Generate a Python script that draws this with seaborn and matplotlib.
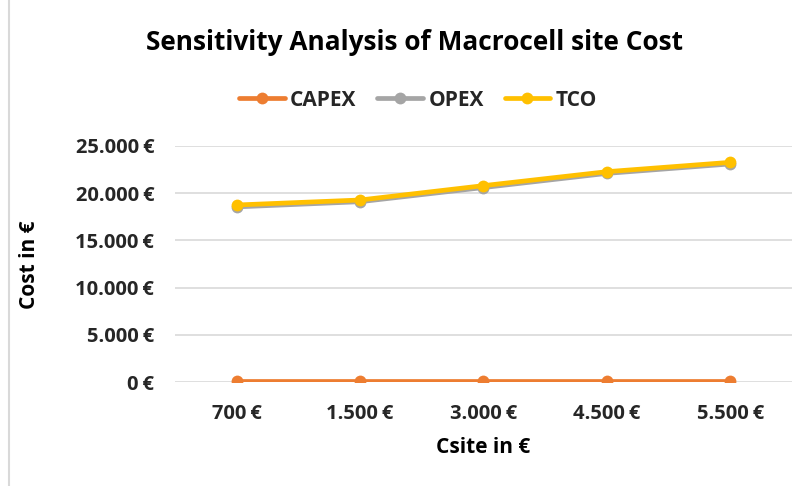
import matplotlib
matplotlib.use("Agg")
import matplotlib.pyplot as plt
import seaborn as sns
import pandas as pd
from matplotlib.lines import Line2D

categories = ["700\u2009€", "1.500\u2009€", "3.000\u2009€", "4.500\u2009€", "5.500\u2009€"]
capex = [150, 150, 150, 150, 150]
opex = [18550, 19100, 20600, 22100, 23100]
tco = [18750, 19280, 20800, 22280, 23270]
series_names = ["CAPEX", "OPEX", "TCO"]
colors = ["#ED7D31", "#A5A5A5", "#FFC000"]
yticks = [0, 5000, 10000, 15000, 20000, 25000]
ytick_labels = ["0\u2009€", "5.000\u2009€", "10.000\u2009€", "15.000\u2009€", "20.000\u2009€", "25.000\u2009€"]

sns.set_theme(style="white")
plt.rcParams["font.family"] = ["Open Sans", "DejaVu Sans"]

rows = []
for name, vals in zip(series_names, [capex, opex, tco]):
    for i, v in enumerate(vals):
        rows.append({"pos": i, "series": name, "value": v})
df = pd.DataFrame(rows)

fig = plt.figure(figsize=(8.04, 4.86), dpi=100)
ax = fig.add_axes([175/804, 1-382/486, (792-175)/804, (382-146)/486])

sns.lineplot(data=df, x="pos", y="value", hue="series", hue_order=series_names,
             palette=colors, marker="o", markersize=8.5, markeredgewidth=0,
             linewidth=3.4, ax=ax, legend=False, zorder=3)

ax.set_xlim(-0.5, len(categories) - 0.5)
ax.set_ylim(0, 25000)
ax.set_xticks(range(len(categories)))
ax.set_xticklabels(categories, fontsize=14.5, fontweight="bold", color="#262626")
ax.set_yticks(yticks)
ax.set_yticklabels(ytick_labels, fontsize=14.5, fontweight="bold", color="#262626")
ax.tick_params(axis="y", length=0, pad=15)
ax.tick_params(axis="x", length=0, pad=16)
ax.yaxis.grid(True, color="#D9D9D9", linewidth=1.2, zorder=0)
ax.xaxis.grid(False)
for s in ax.spines.values():
    s.set_visible(False)
ax.set_xlabel("")
ax.set_ylabel("")

fig.text(483/804, 1-447/486, "Csite in €", ha="center", va="center",
         fontsize=15, fontweight="bold", color="#000000")
fig.text(30/804, 1-265/486, "Cost in €", ha="center", va="center", rotation=90,
         fontsize=15, fontweight="bold", color="#000000")
fig.text(414/804, 1-43/486, "Sensitivity Analysis of Macrocell site Cost", ha="center",
         va="center", fontsize=18.9, fontweight="bold", color="#000000")

handles = [Line2D([0], [0], color=c, lw=3.4, marker="o", markersize=8.5, markeredgewidth=0)
           for c in colors]
leg = fig.legend(handles, series_names, loc="center", bbox_to_anchor=(418/804, 1-100/486),
                 ncol=3, frameon=False, handlelength=2.2, columnspacing=1.0,
                 handletextpad=0.25, prop={"weight": "bold", "size": 15})

fig.add_artist(Line2D([9/804, 9/804], [0, 1], transform=fig.transFigure,
                      color="#D9D9D9", linewidth=1.5))

fig.savefig("out.png", dpi=100)
